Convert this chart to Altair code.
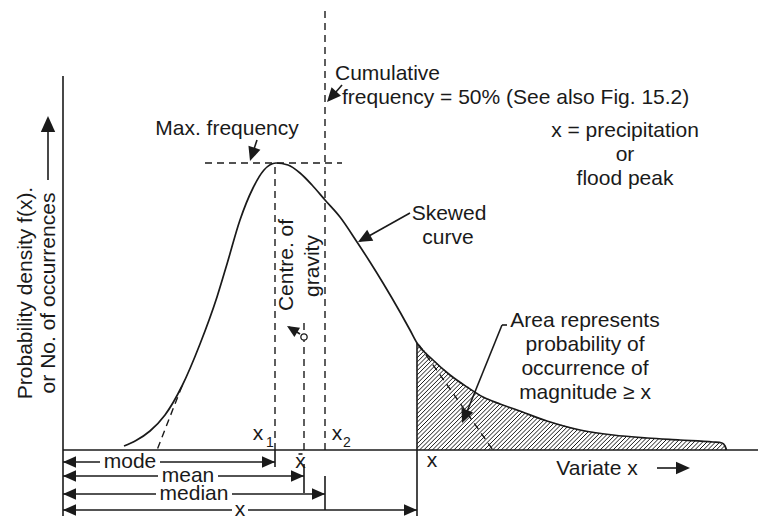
import altair as alt
import pandas as pd
import numpy as np

FONT = "Liberation Sans"
INK = "#1a1a1a"

# ---------------- data (variate units u, density units v; origin at axes corner) -------------
curve_u = [61, 73, 87, 102, 119, 137, 154, 164, 177, 190, 201, 213, 225, 237, 249, 262, 277,
           294, 307, 320, 337, 347, 354, 370, 387, 404, 420, 437, 454, 484, 517, 550, 584, 617,
           650, 659, 662, 663.5]
curve_v = [4, 9.5, 19, 35, 64, 106, 153, 186, 230, 262, 280, 287, 285, 277, 265, 250, 233,
           208, 188, 167, 138, 120, 107, 90, 75, 63, 53, 46, 40, 29, 20, 15, 12, 10,
           8, 7, 4, 0]

# dimension arrows below the axis
dim_labels = ["mode", "mean", "median", "x"]
dim_v = [-12, -26, -44, -60]
dim_tip = [212, 241, 262, 354]
dim_label_u = [67, 125, 131, 177]
dim_gap = [30, 30, 38, 8]

# key verticals
mode_u, mean_u, median_u, x_u = 212, 241, 262, 354
peak_v = 287

# solid segments (u, v, u2, v2)
solid_segs = [
    (0, -74, 0, 374),          # y axis + left bracket
    (0, 0, 703, 0),            # x axis
    (x_u, 107, x_u, -74),      # x line
    (mode_u, 0, mode_u, -17),  # mode tick
    (mean_u, -14, mean_u, -43),
    (median_u, -26, median_u, -60),
    (-15, 270, -15, 330),      # y title arrow
    (594, -18, 622, -18),      # variate arrow
    (194, 310, 188, 292),      # max freq arrow
    (279, 365, 266, 350),      # cumulative arrow
    (347, 237, 297, 209),      # skewed arrow
    (237, 116, 226, 123),      # centre of gravity arrow
    (439, 125, 401, 31),       # area arrow
    (439, 125, 444, 125),
    (235.5, -4, 239.5, -4),    # macron of x-bar
]
# dashed segments
dashed_segs = [
    (mode_u, 0, mode_u, peak_v),
    (mean_u, 0, mean_u, 132),
    (median_u, 0, median_u, 440),
    (142, peak_v, 279, peak_v),
    (119, 64, 94, 0),
    (356, 105, 430, 0),
]
# arrowheads: tail(u,v) -> tip(u,v), length
heads = [
    (-15, 270, -15, 334, 16),
    (594, -18, 627, -18, 14),
    (194, 310, 187, 289, 14),
    (279, 365, 264, 348, 14),
    (347, 237, 295, 208, 14),
    (237, 116, 224, 124, 12),
    (439, 125, 399, 27, 14),
]

# texts
center_texts = [
    ("Max. frequency", 164, 315), ("x = precipitation", 562, 313), ("or", 562, 289),
    ("flood peak", 562, 265), ("Skewed", 386, 230), ("curve", 385, 206),
    ("Area represents", 522, 123), ("probability of", 522, 99), ("occurrence of", 522, 75),
    ("magnitude ≥ x", 522, 51), ("Variate x", 534, -25), ("x", 369, -17),
    ("x", 195, 10), ("x", 274, 10), ("x", 237.5, -18),
]
left_texts = [("Cumulative", 272, 370), ("frequency = 50% (See also Fig. 15.2)", 279, 346)]
sub_texts = [("1", 207, 3), ("2", 284, 3)]
rot_texts = [("Centre. of", 230, 185), ("gravity", 256, 184),
             ("Probability density f(x).", -31, 157), ("or No. of occurrences", -8, 157)]

# ---------------- build ----------------
xs = alt.Scale(domain=[-55, 695], nice=False, zero=False)
ys = alt.Scale(domain=[-66, 442], nice=False, zero=False)


def X(f):
    return alt.X(f, type="quantitative", scale=xs, axis=None)


def Y(f):
    return alt.Y(f, type="quantitative", scale=ys, axis=None)


def seg_df(segs):
    return pd.DataFrame(segs, columns=["u", "v", "u2", "v2"])


def rules(df, **kw):
    return alt.Chart(df).mark_rule(color=INK, **kw).encode(
        x=X("u"), y=Y("v"), x2="u2:Q", y2="v2:Q")


# dimension arrow segments
dim_segs = []
dim_heads = []
for v, tip, lu, g in zip(dim_v, dim_tip, dim_label_u, dim_gap):
    dim_segs.append((0, v, lu - g, v))
    dim_segs.append((lu + g, v, tip, v))
    dim_heads.append((10, v, 0, v, 13))
    dim_heads.append((tip - 10, v, tip, v, 13))

# hatch lines inside area right of x
grid = np.linspace(x_u, curve_u[-1], 4000)
h = np.interp(grid, curve_u, curve_v)
h_edge = float(np.interp(x_u, curve_u, curve_v))
hatch = []
for c in np.arange(x_u - h_edge + 2, curve_u[-1], 4.3):
    us = max(x_u, c)
    vs = us - c
    f = h - (grid - c)
    idx = np.where((f <= 0) & (grid >= us))[0]
    if len(idx) == 0:
        continue
    ue = grid[idx[0]]
    if ue - us > 0.5:
        hatch.append((us, vs, ue, ue - c))

all_heads = heads + dim_heads
hd = pd.DataFrame(all_heads, columns=["u0", "v0", "u", "v", "len"])
hd["angle"] = (np.degrees(np.arctan2(hd["u"] - hd["u0"], hd["v"] - hd["v0"])) + 360) % 360
hd["size"] = (2 * hd["len"]) ** 2

ARROW = "M0,0L-0.45,1L0.45,1Z"

layers = [
    rules(seg_df(hatch), strokeWidth=1.0),
    alt.Chart(pd.DataFrame({"u": curve_u, "v": curve_v})).mark_line(
        interpolate="monotone", color=INK, strokeWidth=1.7).encode(x=X("u"), y=Y("v")),
    rules(seg_df(solid_segs), strokeWidth=1.6),
    rules(seg_df(dim_segs), strokeWidth=1.6),
    rules(seg_df(dashed_segs), strokeWidth=1.4, strokeDash=[7, 5]),
    alt.Chart(hd).mark_point(shape=ARROW, filled=True, color=INK, opacity=1).encode(
        x=X("u"), y=Y("v"), angle=alt.Angle("angle:Q", scale=None),
        size=alt.Size("size:Q", scale=None)),
    alt.Chart(pd.DataFrame({"u": [mean_u], "v": [113]})).mark_point(
        shape="circle", filled=False, fill="white", fillOpacity=1, stroke=INK,
        strokeWidth=1.3, size=40, opacity=1).encode(x=X("u"), y=Y("v")),
]


def text_layer(items, align, baseline, size, angle=0):
    df = pd.DataFrame(items, columns=["t", "u", "v"])
    return alt.Chart(df).mark_text(
        align=align, baseline=baseline, fontSize=size, font=FONT, color=INK, angle=angle
    ).encode(x=X("u"), y=Y("v"), text="t:N")


layers += [
    text_layer(center_texts, "center", "alphabetic", 21),
    text_layer(left_texts, "left", "alphabetic", 21),
    text_layer(sub_texts, "center", "alphabetic", 14),
    text_layer(list(zip(dim_labels, dim_label_u, dim_v)), "center", "middle", 21),
    text_layer(rot_texts, "center", "alphabetic", 21, angle=270),
]

chart = alt.layer(*layers).properties(
    width=750, height=508, padding=0, autosize="none", background="white"
).configure_view(stroke=None)

chart.save("out.html", embed_options={"renderer": "svg", "actions": False})
